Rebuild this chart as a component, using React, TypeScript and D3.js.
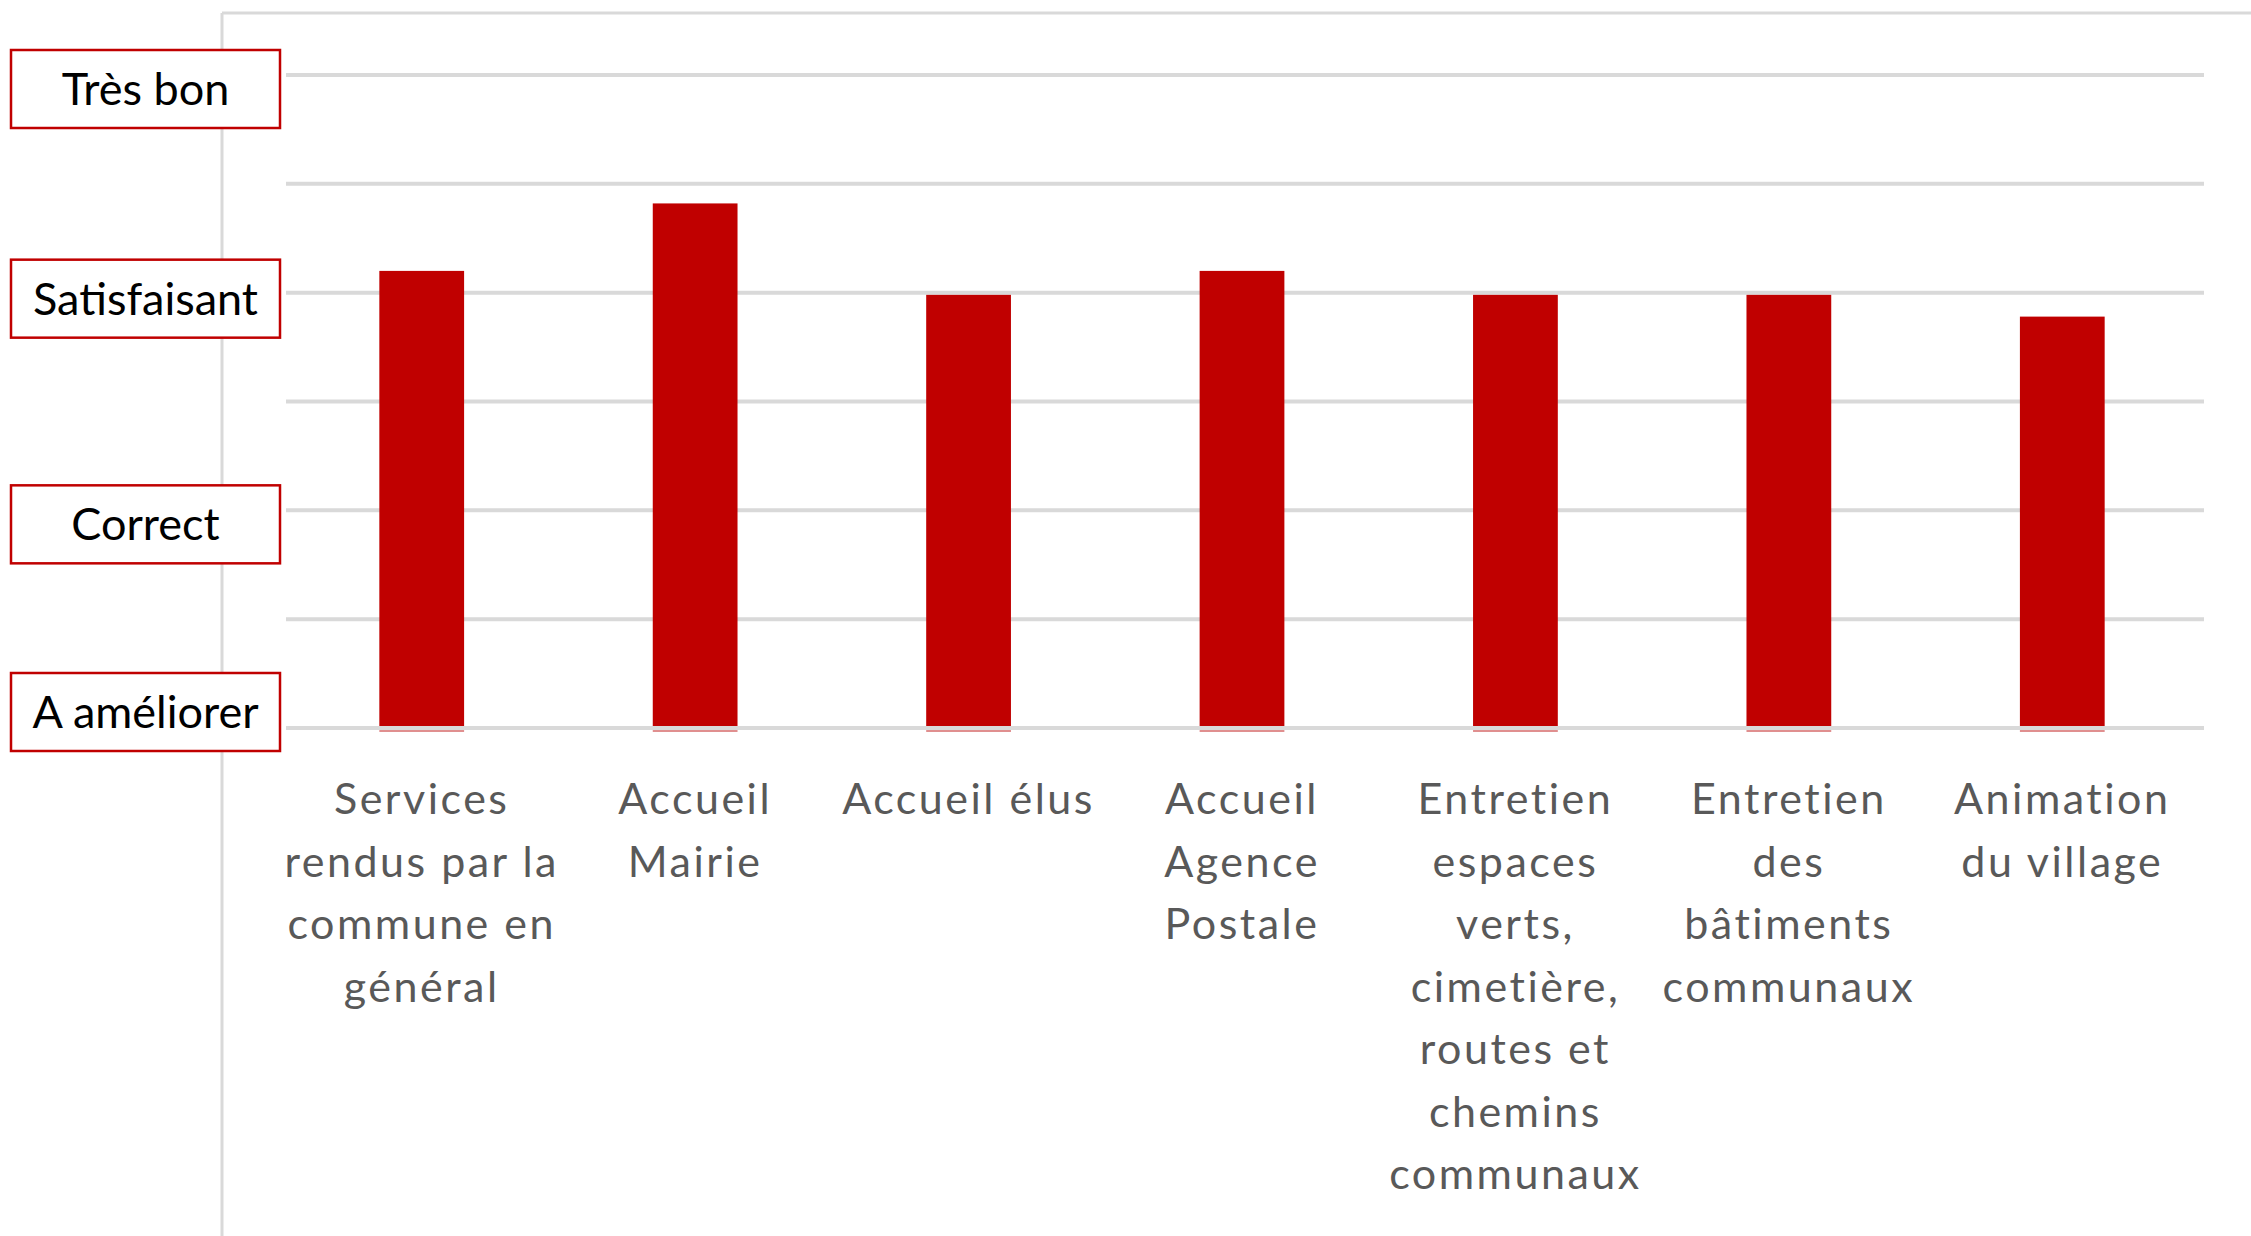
import React from "react";
import * as d3 from "d3";

// categories (line breaks as in the original chart)
const categories = [
  "Services\nrendus par la\ncommune en\ngénéral",
  "Accueil\nMairie",
  "Accueil élus",
  "Accueil\nAgence\nPostale",
  "Entretien\nespaces\nverts,\ncimetière,\nroutes et\nchemins\ncommunaux",
  "Entretien\ndes\nbâtiments\ncommunaux",
  "Animation\ndu village",
];

// average score, 1 = A améliorer ... 4 = Très bon
const scores = [3.1, 3.41, 2.99, 3.1, 2.99, 2.99, 2.89];

const levelLabels = ["A améliorer", "Correct", "Satisfaisant", "Très bon"];
const levelValues = [1, 2, 3, 4];
const gridValues = [1, 1.5, 2, 2.5, 3, 3.5, 4];

const W = 2251;
const H = 1236;
const RED = "#c00000";
const GRID = "#d9d9d9";
const FONT = "Lato, 'Open Sans', sans-serif";

// the level boxes are hand placed text boxes, slightly off the gridlines
const boxNudge = [-16, 14, 6, 14];

export default function App() {
  const y = d3.scaleLinear().domain([1, 4]).range([728, 75]);
  const x = d3
    .scaleBand<string>()
    .domain(categories)
    .range([285, 2199])
    .paddingInner(0.69)
    .paddingOuter(0.345);

  const gridX0 = 286;
  const gridX1 = 2204;
  const frameX = 222;
  const frameY = 13;

  return (
    <svg
      width={W}
      height={H}
      style={{ position: "absolute", left: 0, top: 0, display: "block", background: "#fff" }}
      fontFamily={FONT}
    >
      {/* outer frame of the plot area */}
      <line x1={frameX} y1={frameY} x2={W} y2={frameY} stroke={GRID} strokeWidth={3} />
      <line x1={frameX} y1={frameY} x2={frameX} y2={H} stroke={GRID} strokeWidth={3} />

      {/* gridlines behind bars */}
      {gridValues.slice(1).map((v) => (
        <line key={v} x1={gridX0} x2={gridX1} y1={y(v)} y2={y(v)} stroke={GRID} strokeWidth={4} />
      ))}

      {/* bars */}
      {categories.map((c, i) => (
        <g key={c}>
          <rect x={x(c)} y={y(scores[i])} width={x.bandwidth()} height={y(1) - y(scores[i])} fill={RED} />
          <rect x={x(c)} y={y(1) + 2} width={x.bandwidth()} height={2} fill="#e08f8f" />
        </g>
      ))}

      {/* baseline over the bars */}
      <line x1={gridX0} x2={gridX1} y1={y(1)} y2={y(1)} stroke={GRID} strokeWidth={4} />

      {/* category labels */}
      {categories.map((c) => (
        <text
          key={c}
          x={(x(c) ?? 0) + x.bandwidth() / 2}
          y={y(1) + 86}
          textAnchor="middle"
          fontSize={43}
          letterSpacing={2.5}
          fill="#595959"
        >
          {c.split("\n").map((line, j) => (
            <tspan key={j} x={(x(c) ?? 0) + x.bandwidth() / 2} dy={j === 0 ? 0 : 62.5}>
              {line}
            </tspan>
          ))}
        </text>
      ))}

      {/* level boxes on the left */}
      {levelLabels.map((lab, i) => {
        const cy = y(levelValues[i]) + boxNudge[i];
        return (
          <g key={lab}>
            <rect x={11} y={cy - 39} width={269} height={78} fill="#fff" stroke={RED} strokeWidth={2.5} />
            <text x={145.5} y={cy + 16} textAnchor="middle" fontSize={45} fill="#000">
              {lab}
            </text>
          </g>
        );
      })}
    </svg>
  );
}
